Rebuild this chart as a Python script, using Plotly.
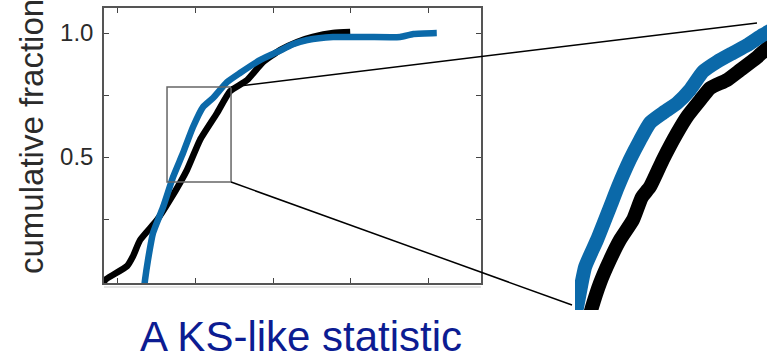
import plotly.graph_objects as go

# Empirical CDFs of the two samples (statistic value on x, cumulative fraction on y)
ref_x = [-0.17, -0.154, 0.128, 0.205, 0.295, 0.513, 0.679, 0.897, 1.064, 1.282, 1.449,
         1.667, 1.872, 2.09, 2.31, 2.51, 2.77, 2.99]
ref_y = [-0.01, 0.004, 0.06, 0.10, 0.165, 0.246, 0.327, 0.448, 0.569, 0.677, 0.765,
         0.81, 0.883, 0.931, 0.964, 0.984, 1.0, 1.004]

obs_x = [0.35, 0.359, 0.397, 0.462, 0.590, 0.718, 0.846, 0.974, 1.103, 1.231, 1.410,
         1.577, 1.833, 2.051, 2.256, 2.44, 2.77, 3.2, 3.63, 3.80, 4.10]
obs_y = [-0.02, 0.004, 0.085, 0.194, 0.298, 0.419, 0.516, 0.621, 0.702, 0.738, 0.802,
         0.839, 0.891, 0.923, 0.955, 0.972, 0.984, 0.984, 0.984, 0.996, 1.0]

# Finely resolved stretch of both curves shown in the magnified panel
zoom_ref_x = [0.701, 0.714, 0.748, 0.791, 0.833, 0.889, 0.927, 0.962, 1.017, 1.077,
              1.120, 1.176, 1.218, 1.291, 1.347, 1.419, 1.462, 1.505]
zoom_ref_y = [0.388, 0.403, 0.435, 0.466, 0.492, 0.519, 0.549, 0.563, 0.599, 0.634,
              0.656, 0.678, 0.694, 0.705, 0.718, 0.735, 0.747, 0.755]
zoom_obs_x = [0.637, 0.650, 0.684, 0.735, 0.791, 0.825, 0.876, 0.919, 0.962, 1.017,
              1.077, 1.133, 1.188, 1.248, 1.317, 1.376, 1.445, 1.496]
zoom_obs_y = [0.388, 0.403, 0.456, 0.492, 0.536, 0.563, 0.599, 0.625, 0.648, 0.661,
              0.674, 0.692, 0.716, 0.729, 0.741, 0.751, 0.765, 0.774]

# Region of the main plot that is magnified
zoom_x = [0.641, 1.462]
zoom_y = [0.399, 0.782]

y_ticks = [0.25, 0.5, 0.75, 1.0]
y_tick_text = ["", "0.5", "", "1.0"]
x_ticks = [0, 1, 2, 3, 4]

W, H = 767, 359
BLUE = "#0b69a9"
FONT = "Liberation Sans, Arial, Helvetica, sans-serif"

main_xdom = [104 / W, 481 / W]
main_ydom = [1 - 283 / H, 1 - 8 / H]
main_xr = [-0.167, 4.667]
main_yr = [-0.008, 1.101]

ins_xdom = [575 / W, 1.0]
ins_ydom = [1 - 310 / H, 1 - 22 / H]


def to_paper(v, dom, rng):
    return dom[0] + (v - rng[0]) / (rng[1] - rng[0]) * (dom[1] - dom[0])


def curve(x, y, color, width, xa, ya):
    return go.Scatter(x=x, y=y, mode="lines",
                      line=dict(color=color, width=width, shape="spline", smoothing=0.5),
                      xaxis=xa, yaxis=ya, showlegend=False, hoverinfo="skip")


fig = go.Figure()
fig.add_trace(curve(ref_x, ref_y, "black", 6.5, "x", "y"))
fig.add_trace(curve(obs_x, obs_y, BLUE, 6.5, "x", "y"))
fig.add_trace(curve(zoom_ref_x, zoom_ref_y, "black", 14, "x2", "y2"))
fig.add_trace(curve(zoom_obs_x, zoom_obs_y, BLUE, 14, "x2", "y2"))

axis_common = dict(showline=True, linecolor="#555555", linewidth=1.5, mirror="allticks",
                   ticks="inside", ticklen=5, tickwidth=1.2, tickcolor="#444444",
                   showgrid=False, zeroline=False, fixedrange=True)

fig.update_layout(
    width=W, height=H,
    margin=dict(l=0, r=0, t=0, b=0),
    paper_bgcolor="white", plot_bgcolor="rgba(0,0,0,0)",
    xaxis=dict(domain=main_xdom, range=main_xr, tickvals=x_ticks,
               showticklabels=False, **axis_common),
    yaxis=dict(domain=main_ydom, range=main_yr, tickvals=y_ticks, ticktext=y_tick_text,
               tickfont=dict(family=FONT, size=24, color="#2b2b2b"),
               ticklabelstandoff=4, **axis_common),
    xaxis2=dict(domain=ins_xdom, range=zoom_x, anchor="y2", visible=False, fixedrange=True),
    yaxis2=dict(domain=ins_ydom, range=zoom_y, anchor="x2", visible=False, fixedrange=True),
)

# faint shadow line under the bottom frame
fig.add_shape(type="line", xref="paper", yref="paper",
              x0=main_xdom[0], x1=main_xdom[1], y0=1 - 287 / H, y1=1 - 287 / H,
              line=dict(color="#e4e4e4", width=2), layer="below")

# rectangle marking the magnified region
fig.add_shape(type="rect", xref="x", yref="y",
              x0=zoom_x[0], x1=zoom_x[1], y0=zoom_y[0], y1=zoom_y[1],
              line=dict(color="#666666", width=1.5), layer="above")

# connector lines from the rectangle to the magnified panel
bx1 = to_paper(zoom_x[1], main_xdom, main_xr)
by0 = to_paper(zoom_y[0], main_ydom, main_yr)
by1 = to_paper(zoom_y[1], main_ydom, main_yr)
fig.add_shape(type="line", xref="paper", yref="paper",
              x0=bx1, y0=by1, x1=757 / W, y1=1 - 23 / H,
              line=dict(color="black", width=1.5))
fig.add_shape(type="line", xref="paper", yref="paper",
              x0=bx1, y0=by0, x1=572 / W, y1=1 - 305 / H,
              line=dict(color="black", width=1.5))

fig.add_annotation(text="cumulative fraction", textangle=-90,
                   xref="paper", yref="paper", x=31 / W, y=1 - 137 / H,
                   xanchor="center", yanchor="middle", showarrow=False,
                   font=dict(family=FONT, size=33, color="#2b2b2b"))

fig.add_annotation(text="A KS-like statistic",
                   xref="paper", yref="paper", x=301 / W, y=1 - 336 / H,
                   xanchor="center", yanchor="middle", showarrow=False,
                   font=dict(family=FONT, size=42, color="#0c1c92"))

fig.write_html("out.html")
